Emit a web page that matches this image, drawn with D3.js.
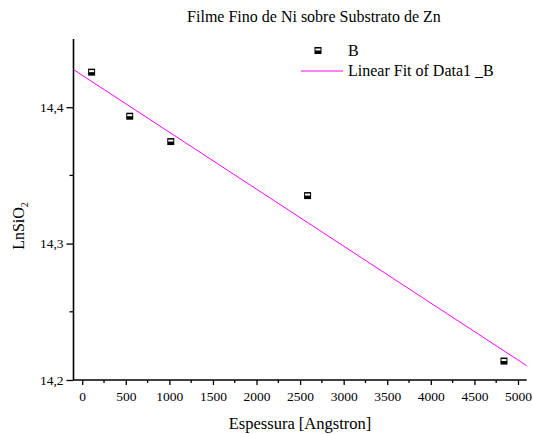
<!DOCTYPE html>
<html>
<head>
<meta charset="utf-8">
<script src="https://cdn.jsdelivr.net/npm/d3@7"></script>
<style>
  html, body { margin: 0; padding: 0; background: #fff; }
  svg { display: block; }
</style>
</head>
<body>
<svg id="chart" width="533" height="434"></svg>
<script>
// Film thickness (Angstrom) and measured LnSiO2 values
const thickness = [108, 545, 1016, 2586, 4839];
const lnSiO2 = [14.4257, 14.3934, 14.3748, 14.3352, 14.2139];

// Linear fit parameters (intercept, slope per Angstrom)
const fitIntercept = [14.4234];
const fitSlope = [-4.175e-5];

const xTicks = [0, 500, 1000, 1500, 2000, 2500, 3000, 3500, 4000, 4500, 5000];
const yTicks = [14.2, 14.3, 14.4];

const titleText = "Filme Fino de Ni sobre Substrato de Zn";
const xLabel = "Espessura [Angstron]";
const legendLabels = ["B", "Linear Fit of Data1 _B"];

const FONT = '"Liberation Serif", "Times New Roman", serif';

const svg = d3.select("#chart");

const x = d3.scaleLinear().domain([-100, 5100]).range([73.5, 526.7]);
const y = d3.scaleLinear().domain([14.2, 14.45]).range([380, 39]);

// Title
svg.append("text")
  .attr("x", 314).attr("y", 22)
  .attr("text-anchor", "middle")
  .style("font-family", FONT)
  .style("font-size", "16px")
  .text(titleText);

// X axis
const xAxis = d3.axisBottom(x)
  .tickValues(xTicks)
  .tickSize(5)
  .tickPadding(6)
  .tickFormat(d3.format("d"));
const gx = svg.append("g").attr("transform", "translate(0,380)").call(xAxis);
gx.select(".domain").attr("d", `M${x(-100)},0H${x(5100)}`);

// X minor ticks
const xMinor = d3.range(250, 5100, 500);
gx.selectAll(".minor").data(xMinor).enter().append("line")
  .attr("class", "minor")
  .attr("x1", d => x(d)).attr("x2", d => x(d))
  .attr("y1", 0).attr("y2", 3)
  .attr("stroke", "#000");

// Y axis
const yAxis = d3.axisLeft(y)
  .tickValues(yTicks)
  .tickSize(7)
  .tickPadding(3)
  .tickFormat(d => d3.format(".1f")(d).replace(".", ","));
const gy = svg.append("g").attr("transform", "translate(73.5,0)").call(yAxis);
gy.select(".domain").attr("d", `M0,${y(14.45)}V${y(14.2)}`);

const yMinor = [14.25, 14.35];
gy.selectAll(".minor").data(yMinor).enter().append("line")
  .attr("class", "minor")
  .attr("x1", 0).attr("x2", -4)
  .attr("y1", d => y(d)).attr("y2", d => y(d))
  .attr("stroke", "#000");

[gx, gy].forEach(g => {
  g.selectAll(".domain").attr("stroke", "#000").attr("stroke-width", 1.6);
  g.selectAll("line").attr("stroke", "#000").attr("stroke-width", 1.3);
  g.selectAll("text").style("font-family", FONT).style("font-size", "13.5px").attr("fill", "#000");
});

// Axis titles
svg.append("text")
  .attr("x", 300).attr("y", 429)
  .attr("text-anchor", "middle")
  .style("font-family", FONT)
  .style("font-size", "16.5px")
  .text(xLabel);

const yl = svg.append("text")
  .attr("transform", "translate(24,226) rotate(-90)")
  .attr("text-anchor", "middle")
  .style("font-family", FONT)
  .style("font-size", "16px");
yl.append("tspan").text("LnSiO");
yl.append("tspan").style("font-size", "10px").attr("dy", 4).text("2");

// Fit line
const fitLine = d3.line()
  .x(d => x(d))
  .y(d => y(fitIntercept[0] + fitSlope[0] * d));
svg.append("path")
  .datum([-100, 5100])
  .attr("d", fitLine)
  .attr("fill", "none")
  .attr("stroke", "#ff00ff")
  .attr("stroke-width", 1);

// Half-filled square markers
function marker(g, cx, cy) {
  g.append("rect").attr("x", cx - 3.5).attr("y", cy - 3.5)
    .attr("width", 7).attr("height", 7).attr("fill", "#000");
  g.append("rect").attr("x", cx - 2.5).attr("y", cy - 2)
    .attr("width", 5).attr("height", 2).attr("fill", "#fff");
}
const pts = svg.append("g");
thickness.forEach((t, i) => marker(pts, x(t), y(lnSiO2[i])));

// Legend
const lg = svg.append("g");
marker(lg, 318, 50.5);
lg.append("text").attr("x", 348).attr("y", 56).style("font-family", FONT).style("font-size", "16px").text(legendLabels[0]);
lg.append("line").attr("x1", 301).attr("x2", 343).attr("y1", 71).attr("y2", 71)
  .attr("stroke", "#ff00ff").attr("stroke-width", 1);
lg.append("text").attr("x", 348).attr("y", 76).style("font-family", FONT).style("font-size", "16px").text(legendLabels[1]);
</script>
</body>
</html>
